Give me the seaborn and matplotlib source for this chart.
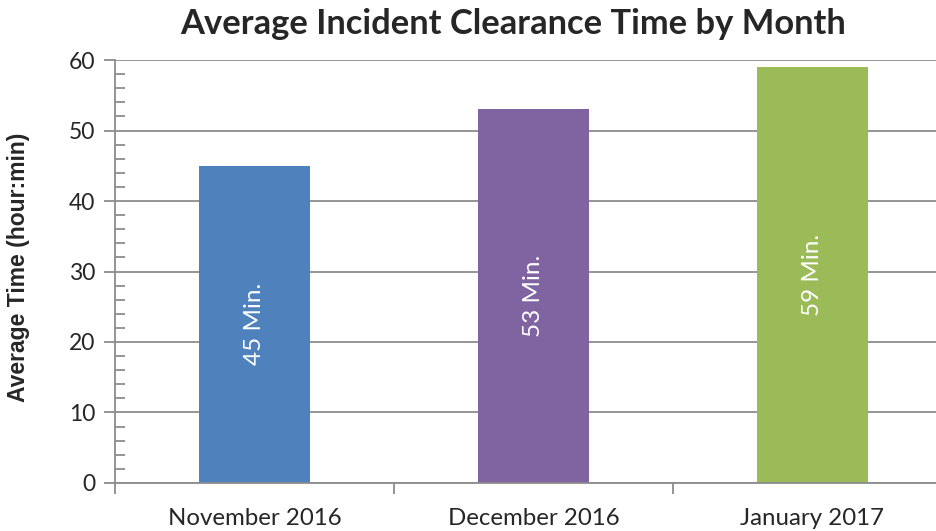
import matplotlib
matplotlib.use("Agg")
import matplotlib.pyplot as plt
import seaborn as sns
import pandas as pd
from matplotlib.ticker import MultipleLocator

months = ["November 2016", "December 2016", "January 2017"]
values = [45, 53, 59]
labels = ["45 Min.", "53 Min.", "59 Min."]
colors = ["#4F81BD", "#8064A2", "#9BBB59"]

sns.set_style("white")
plt.rcParams['font.family'] = ['Lato', 'DejaVu Sans']

df = pd.DataFrame({"month": months, "value": values})

fig = plt.figure(figsize=(9.37, 5.31), dpi=100)
ax = fig.add_axes([0.1227, 0.0904, 0.8933, 0.7966])

sns.barplot(data=df, x="month", y="value", hue="month", palette=colors,
            width=0.4, legend=False, ax=ax, saturation=1, linewidth=0)

ax.set_ylim(0, 60)
ax.set_xlim(-0.5, 2.5)
ax.yaxis.set_major_locator(MultipleLocator(10))
ax.yaxis.set_minor_locator(MultipleLocator(2))
ax.grid(axis="y", which="major", color="#8c8c8c", linewidth=1.3)
ax.set_axisbelow(True)

for s in ["top", "right"]:
    ax.spines[s].set_visible(False)
for s in ["left", "bottom"]:
    ax.spines[s].set_color("#8c8c8c")
    ax.spines[s].set_linewidth(1.3)

ax.tick_params(axis="y", which="major", direction="out", length=8, width=1.3,
               color="#8c8c8c", labelsize=16.5, pad=6, left=True)
ax.tick_params(axis="y", which="minor", direction="in", length=7, width=1.3,
               color="#8c8c8c", left=True)
ax.set_xticks([0, 1, 2])
ax.set_xticklabels(months)
ax.tick_params(axis="x", which="major", length=0, labelsize=17.3, pad=18)
ax.set_xticks([-0.5, 0.5, 1.5, 2.5], minor=True)
ax.tick_params(axis="x", which="minor", direction="out", length=8, width=1.3,
               color="#8c8c8c", bottom=True)

for i, (v, lab) in enumerate(zip(values, labels)):
    ax.text(i, v / 2, lab, rotation=90, ha="center", va="center",
            color="white", fontsize=17.5)

ax.set_xlabel("")
ax.set_ylabel("Average Time (hour:min)", fontsize=16.5, fontweight="bold",
              fontfamily="Liberation Sans")
ax.yaxis.set_label_coords(-0.1016, 0.51)
fig.text(0.5475, 0.955, "Average Incident Clearance Time by Month",
         ha="center", va="center", fontsize=24.8, fontweight="bold")

fig.savefig("out.png", dpi=100)
